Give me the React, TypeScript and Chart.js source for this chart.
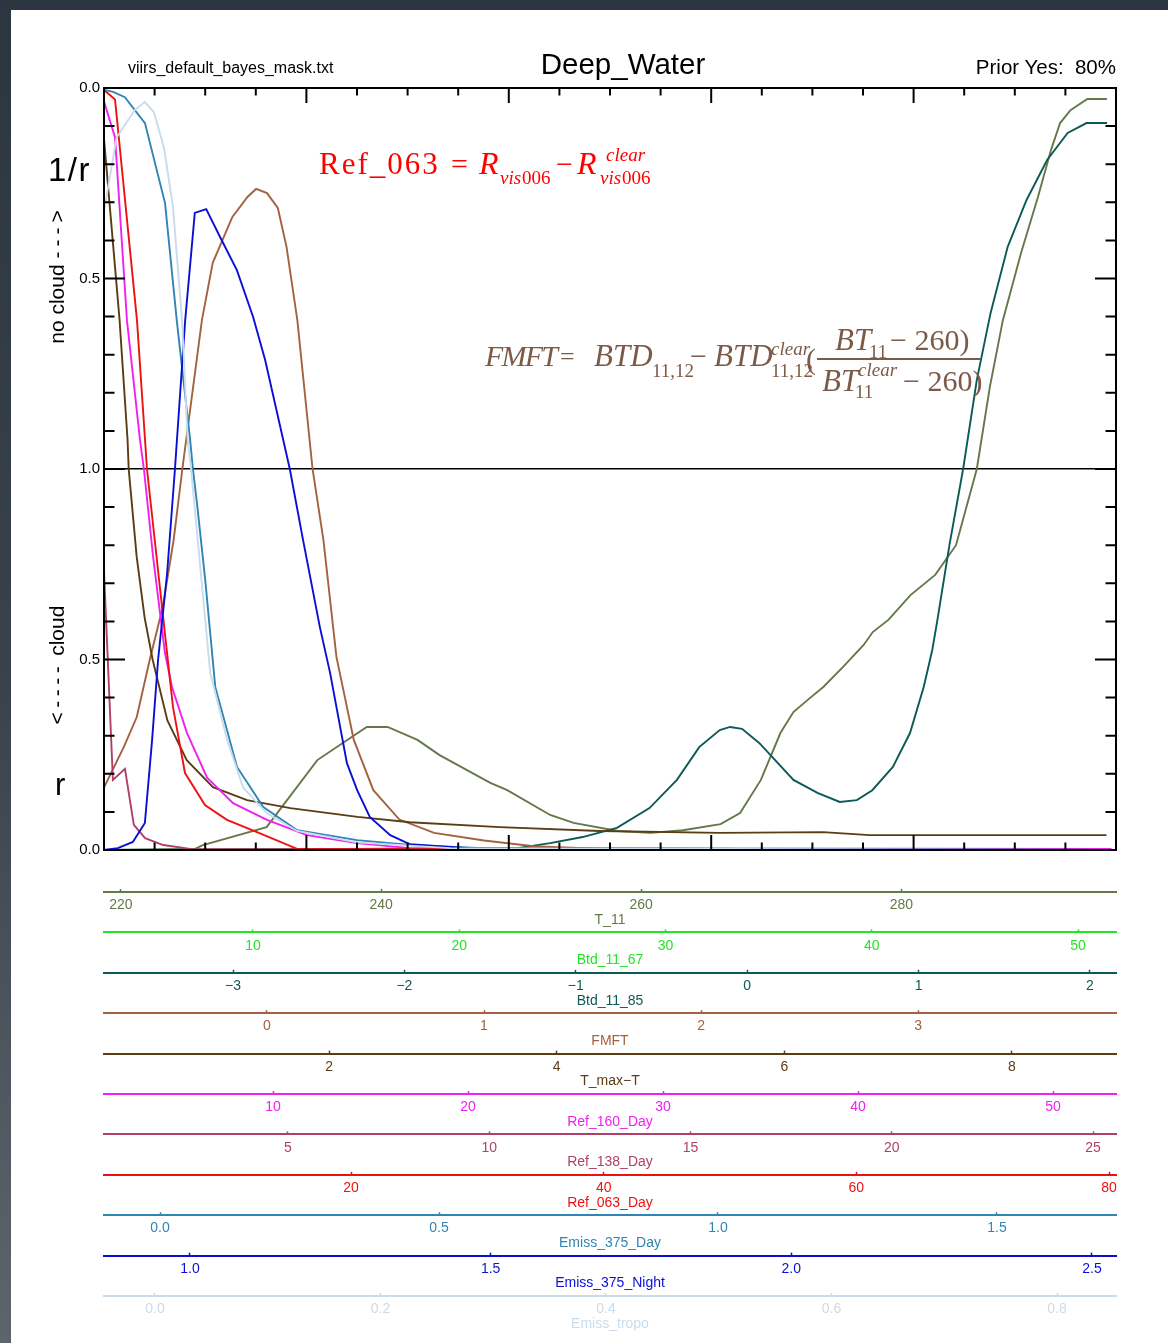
import React, { useEffect, useRef } from 'react';
import { Chart, registerables } from 'chart.js';

Chart.register(...registerables);

const W = 1168;
const H = 1343;

// ---- plot-space y axis: 0 = bottom "0.0" (r), 1 = "1.0", 2 = top "0.0" (1/r)
const Y_TICKS = [0, 0.5, 1, 1.5, 2];
const Y_TICK_LABELS = ['0.0', '0.5', '1.0', '0.5', '0.0'];
const FRAME_X_MAJOR = [0.2, 0.4, 0.6, 0.8];
const FRAME_X_MINOR = [0.05, 0.1, 0.15, 0.25, 0.3, 0.35, 0.45, 0.5, 0.55, 0.65, 0.7, 0.75, 0.85, 0.9, 0.95];
const FRAME_Y_MAJOR = [0.5, 1.0, 1.5];
const FRAME_Y_MINOR = [0.1, 0.2, 0.3, 0.4, 0.6, 0.7, 0.8, 0.9, 1.1, 1.2, 1.3, 1.4, 1.6, 1.7, 1.8, 1.9];

// ---- T_11
const T11_X = [218.7, 225.7, 226.3, 231.2, 235.1, 238.9, 240.5, 242.8, 244.5, 248.4, 249.7, 253.0, 254.8, 258.2, 260.7, 263.2, 266.1, 267.6, 269.2, 270.7, 271.7, 272.8, 274.0, 275.5, 277.1, 277.8, 279.0, 280.7, 282.6, 284.2, 285.8, 286.8, 287.8, 289.2, 290.5, 291.5, 292.2, 293.0, 294.3, 295.8];
const T11_Y = [0, 0.003, 0.013, 0.06, 0.236, 0.323, 0.323, 0.289, 0.249, 0.176, 0.157, 0.092, 0.071, 0.05, 0.045, 0.052, 0.068, 0.097, 0.184, 0.307, 0.362, 0.394, 0.428, 0.48, 0.538, 0.572, 0.604, 0.669, 0.722, 0.8, 1.0, 1.215, 1.39, 1.567, 1.714, 1.837, 1.908, 1.942, 1.971, 1.971];
const T11_RANGE = [218.7, 296.5];
const T11_TICKS = [220, 240, 260, 280];
const T11_TICK_LABELS = ['220', '240', '260', '280'];

// ---- Btd_11_67
const BTD67_X = [2.8, 51.8];
const BTD67_Y = [0, 0];
const BTD67_RANGE = [2.78, 51.84];
const BTD67_TICKS = [10, 20, 30, 40, 50];
const BTD67_TICK_LABELS = ['10', '20', '30', '40', '50'];

// ---- Btd_11_85
const BTD85_X = [-3.75, -1.34, -1.15, -0.96, -0.76, -0.57, -0.41, -0.28, -0.16, -0.10, -0.03, 0.07, 0.27, 0.41, 0.54, 0.64, 0.73, 0.85, 0.95, 1.03, 1.08, 1.11, 1.18, 1.26, 1.34, 1.42, 1.52, 1.63, 1.75, 1.87, 1.98, 2.10];
const BTD85_Y = [0, 0.005, 0.018, 0.034, 0.058, 0.11, 0.184, 0.27, 0.315, 0.323, 0.318, 0.281, 0.184, 0.15, 0.126, 0.131, 0.157, 0.218, 0.307, 0.428, 0.525, 0.604, 0.8, 1.0, 1.234, 1.409, 1.583, 1.706, 1.811, 1.882, 1.908, 1.908];
const BTD85_RANGE = [-3.753, 2.152];
const BTD85_TICKS = [-3, -2, -1, 0, 1, 2];
const BTD85_TICK_LABELS = ['\u22123', '\u22122', '\u22121', '0', '1', '2'];

// ---- FMFT
const FMFT_X = [-0.75, -0.66, -0.60, -0.54, -0.48, -0.43, -0.39, -0.30, -0.25, -0.16, -0.09, -0.05, 0.0, 0.05, 0.09, 0.14, 0.21, 0.26, 0.32, 0.40, 0.49, 0.61, 0.77, 1.0, 1.23, 1.54, 3.87];
const FMFT_Y = [0.165, 0.27, 0.349, 0.5, 0.638, 0.814, 1.0, 1.39, 1.541, 1.661, 1.714, 1.735, 1.724, 1.685, 1.583, 1.39, 1.0, 0.814, 0.507, 0.289, 0.157, 0.08, 0.045, 0.025, 0.01, 0.003, 0];
const FMFT_RANGE = [-0.751, 3.912];
const FMFT_TICKS = [0, 1, 2, 3];
const FMFT_TICK_LABELS = ['0', '1', '2', '3'];

// ---- T_max-T
const TMAX_X = [0.02, 0.16, 0.23, 0.24, 0.31, 0.38, 0.45, 0.58, 0.75, 0.98, 1.28, 1.66, 2.25, 2.71, 3.50, 4.38, 5.43, 6.34, 6.75, 8.83];
const TMAX_Y = [1.877, 1.39, 1.076, 1.0, 0.77, 0.61, 0.5, 0.34, 0.236, 0.165, 0.131, 0.11, 0.087, 0.073, 0.06, 0.05, 0.045, 0.047, 0.039, 0.039];
const TMAX_RANGE = [0.023, 8.914];
const TMAX_TICKS = [2, 4, 6, 8];
const TMAX_TICK_LABELS = ['2', '4', '6', '8'];

// ---- Ref_160_Day
const REF160_X = [1.33, 1.90, 2.51, 3.18, 3.38, 3.85, 4.46, 4.82, 5.59, 6.62, 7.95, 9.69, 11.74, 14.30, 17.02, 53.0];
const REF160_Y = [1.965, 1.87, 1.39, 1.076, 1.0, 0.77, 0.517, 0.428, 0.307, 0.19, 0.123, 0.079, 0.039, 0.018, 0.005, 0.003];
const REF160_RANGE = [1.333, 53.23];
const REF160_TICKS = [10, 20, 30, 40, 50];
const REF160_TICK_LABELS = ['10', '20', '30', '40', '50'];

// ---- Ref_138_Day
const REF138_X = [0.43, 0.65, 0.95, 1.17, 1.45, 1.90, 2.57, 25.35];
const REF138_Y = [0.73, 0.184, 0.213, 0.066, 0.031, 0.013, 0.003, 0];
const REF138_RANGE = [0.429, 25.571];
const REF138_TICKS = [5, 10, 15, 20, 25];
const REF138_TICK_LABELS = ['5', '10', '15', '20', '25'];

// ---- Ref_063_Day
const REF063_X = [0.45, 1.32, 3.06, 3.85, 5.44, 5.91, 6.86, 8.44, 10.18, 12.56, 15.73, 80.5];
const REF063_Y = [1.995, 1.97, 1.39, 1.0, 0.517, 0.375, 0.202, 0.118, 0.079, 0.047, 0.003, 0];
const REF063_RANGE = [0.448, 80.554];
const REF063_TICKS = [20, 40, 60, 80];
const REF063_TICK_LABELS = ['20', '40', '60', '80'];

// ---- Emiss_375_Day
const E375D_X = [-0.100, -0.084, -0.063, -0.027, 0.009, 0.030, 0.054, 0.059, 0.067, 0.081, 0.099, 0.138, 0.185, 0.246, 0.353, 0.448, 0.609, 1.697];
const E375D_Y = [1.995, 1.99, 1.976, 1.908, 1.698, 1.39, 1.076, 1.0, 0.9, 0.709, 0.428, 0.218, 0.113, 0.052, 0.026, 0.013, 0.003, 0];
const E375D_RANGE = [-0.1004, 1.7133];
const E375D_TICKS = [0, 0.5, 1.0, 1.5];
const E375D_TICK_LABELS = ['0.0', '0.5', '1.0', '1.5'];

// ---- Emiss_375_Night
const E375N_X = [0.857, 0.880, 0.905, 0.925, 0.937, 0.947, 0.962, 0.975, 0.992, 1.008, 1.027, 1.050, 1.078, 1.105, 1.125, 1.166, 1.188, 1.216, 1.233, 1.261, 1.278, 1.299, 1.333, 1.366, 1.461, 2.525];
const E375N_Y = [0, 0.005, 0.021, 0.071, 0.289, 0.5, 0.727, 1.0, 1.39, 1.672, 1.682, 1.609, 1.522, 1.399, 1.286, 1.0, 0.814, 0.585, 0.465, 0.228, 0.157, 0.087, 0.039, 0.015, 0.005, 0];
const E375N_RANGE = [0.857, 2.540];
const E375N_TICKS = [1.0, 1.5, 2.0, 2.5];
const E375N_TICK_LABELS = ['1.0', '1.5', '2.0', '2.5'];

// ---- Emiss_tropo
const ETROPO_X = [-0.045, -0.034, -0.018, -0.009, -0.001, 0.008, 0.016, 0.024, 0.029, 0.032, 0.049, 0.064, 0.078, 0.099, 0.126, 0.179, 0.262, 0.844];
const ETROPO_Y = [1.68, 1.87, 1.942, 1.963, 1.937, 1.843, 1.688, 1.39, 1.076, 1.0, 0.465, 0.289, 0.165, 0.097, 0.05, 0.02, 0.005, 0];
const ETROPO_RANGE = [-0.0452, 0.8523];
const ETROPO_TICKS = [0, 0.2, 0.4, 0.6, 0.8];
const ETROPO_TICK_LABELS = ['0.0', '0.2', '0.4', '0.6', '0.8'];

const FEATURE_NAMES = ['T_11', 'Btd_11_67', 'Btd_11_85', 'FMFT', 'T_max\u2212T', 'Ref_160_Day', 'Ref_138_Day', 'Ref_063_Day', 'Emiss_375_Day', 'Emiss_375_Night', 'Emiss_tropo'];
const FEATURE_COLORS = ['#64784a', '#22e622', '#0c5a55', '#a3613f', '#5c3c14', '#f020f0', '#b03f6b', '#ee1111', '#2f85b4', '#0b0fd6', '#c8dcec'];

const FEATURES = [
  { xs: T11_X, ys: T11_Y, range: T11_RANGE, ticks: T11_TICKS, labels: T11_TICK_LABELS },
  { xs: BTD67_X, ys: BTD67_Y, range: BTD67_RANGE, ticks: BTD67_TICKS, labels: BTD67_TICK_LABELS },
  { xs: BTD85_X, ys: BTD85_Y, range: BTD85_RANGE, ticks: BTD85_TICKS, labels: BTD85_TICK_LABELS },
  { xs: FMFT_X, ys: FMFT_Y, range: FMFT_RANGE, ticks: FMFT_TICKS, labels: FMFT_TICK_LABELS },
  { xs: TMAX_X, ys: TMAX_Y, range: TMAX_RANGE, ticks: TMAX_TICKS, labels: TMAX_TICK_LABELS },
  { xs: REF160_X, ys: REF160_Y, range: REF160_RANGE, ticks: REF160_TICKS, labels: REF160_TICK_LABELS },
  { xs: REF138_X, ys: REF138_Y, range: REF138_RANGE, ticks: REF138_TICKS, labels: REF138_TICK_LABELS },
  { xs: REF063_X, ys: REF063_Y, range: REF063_RANGE, ticks: REF063_TICKS, labels: REF063_TICK_LABELS },
  { xs: E375D_X, ys: E375D_Y, range: E375D_RANGE, ticks: E375D_TICKS, labels: E375D_TICK_LABELS },
  { xs: E375N_X, ys: E375N_Y, range: E375N_RANGE, ticks: E375N_TICKS, labels: E375N_TICK_LABELS },
  { xs: ETROPO_X, ys: ETROPO_Y, range: ETROPO_RANGE, ticks: ETROPO_TICKS, labels: ETROPO_TICK_LABELS },
].map((f, i) => ({ ...f, name: FEATURE_NAMES[i], color: FEATURE_COLORS[i] }));

const SANS = '"Liberation Sans", Arial, Helvetica, sans-serif';
const SERIF = '"Liberation Serif", "Times New Roman", serif';

const framePlugin = {
  id: 'frameTicks',
  afterDatasetsDraw(chart: any) {
    const { ctx, chartArea: a, scales: s } = chart;
    ctx.save();
    ctx.strokeStyle = '#000';
    ctx.lineWidth = 2;
    ctx.strokeRect(a.left, a.top, a.right - a.left, a.bottom - a.top);
    ctx.beginPath();
    const xt = (vals: number[], len: number) =>
      vals.forEach((v) => {
        const p = s.x.getPixelForValue(v);
        ctx.moveTo(p, a.top);
        ctx.lineTo(p, a.top + len);
        ctx.moveTo(p, a.bottom);
        ctx.lineTo(p, a.bottom - len);
      });
    const yt = (vals: number[], len: number) =>
      vals.forEach((v) => {
        const p = s.y.getPixelForValue(v);
        ctx.moveTo(a.left, p);
        ctx.lineTo(a.left + len, p);
        ctx.moveTo(a.right, p);
        ctx.lineTo(a.right - len, p);
      });
    xt(FRAME_X_MAJOR, 15);
    xt(FRAME_X_MINOR, 7.5);
    yt(FRAME_Y_MAJOR, 21);
    yt(FRAME_Y_MINOR, 10.5);
    ctx.stroke();
    ctx.restore();
  },
};

type TP = {
  x: number; y: number; size: number; text: string; color?: string;
  italic?: boolean; serif?: boolean; align?: 'left' | 'center' | 'right'; ls?: number;
};
function Txt({ x, y, size, text, color = '#000', italic, serif, align = 'left', ls }: TP) {
  const asc = serif ? 0.8375 : 0.8465;
  const style: React.CSSProperties = {
    position: 'absolute', top: y - asc * size, whiteSpace: 'pre', fontSize: size,
    lineHeight: `${size}px`, fontFamily: serif ? SERIF : SANS,
    fontStyle: italic ? 'italic' : 'normal', color, letterSpacing: ls,
  };
  if (align === 'left') style.left = x;
  else if (align === 'right') style.right = W - x;
  else { style.left = x; style.transform = 'translateX(-50%)'; }
  return <div style={style}>{text}</div>;
}

function VTxt({ cx, cy, size, pre, arrow, post, arrowLs }: {
  cx: number; cy: number; size: number; pre: string; arrow: string; post: string; arrowLs: number;
}) {
  return (
    <div style={{
      position: 'absolute', left: cx, top: cy, whiteSpace: 'pre', fontSize: size,
      lineHeight: `${size}px`, fontFamily: SANS, color: '#000',
      transform: 'translate(-50%, -50%) rotate(-90deg)',
    }}>
      {pre}<span style={{ letterSpacing: arrowLs }}>{arrow}</span>{post}
    </div>
  );
}

const RED = '#ff0000';
const BROWN = '#7c5a48';

export default function App() {
  const ref = useRef<HTMLCanvasElement | null>(null);

  useEffect(() => {
    if (!ref.current) return;
    const scales: any = {
      x: {
        type: 'linear', position: 'bottom', min: 0, max: 1, weight: 0,
        ticks: { display: false }, grid: { display: false }, border: { display: false },
        afterFit: (s: any) => { s.height = 42; },
      },
      y: {
        type: 'linear', position: 'left', min: 0, max: 2,
        afterBuildTicks: (s: any) => { s.ticks = Y_TICKS.map((v) => ({ value: v })); },
        afterFit: (s: any) => { s.width = 40; },
        ticks: {
          callback: (_v: any, i: number) => Y_TICK_LABELS[i],
          color: '#000', font: { size: 15, family: SANS }, padding: 4, autoSkip: false,
        },
        grid: {
          drawTicks: false,
          color: (c: any) => (c.tick && c.tick.value === 1 ? '#000' : 'rgba(0,0,0,0)'),
          lineWidth: 1.6,
        },
        border: { display: false },
      },
    };
    FEATURES.forEach((f, i) => {
      scales['x' + i] = {
        type: 'linear', position: 'bottom', weight: i + 1, min: f.range[0], max: f.range[1],
        afterBuildTicks: (s: any) => { s.ticks = f.ticks.map((v) => ({ value: v })); },
        afterFit: (s: any) => { s.height = 40.4; },
        ticks: {
          callback: (_v: any, k: number) => f.labels[k],
          color: f.color, font: { size: 14, family: SANS }, padding: 8, autoSkip: false, maxRotation: 0,
        },
        grid: { display: true, drawOnChartArea: false, drawTicks: true, tickLength: -3, tickColor: f.color, tickWidth: 1.5 },
        border: { display: true, color: f.color, width: 2 },
        title: { display: true, text: f.name, color: f.color, font: { size: 14, family: SANS }, padding: { top: 0, bottom: 4 } },
      };
    });

    const chart = new Chart(ref.current, {
      type: 'line',
      data: {
        datasets: FEATURES.map((f, i) => ({
          label: f.name,
          data: f.xs.map((x, k) => ({ x, y: f.ys[k] })),
          xAxisID: 'x' + i,
          yAxisID: 'y',
          borderColor: f.color,
          backgroundColor: f.color,
          borderWidth: 1.9,
          pointRadius: 0,
          tension: 0,
          fill: false,
          order: FEATURES.length - i,
        })),
      },
      options: {
        responsive: false,
        animation: false,
        devicePixelRatio: 1,
        events: [],
        layout: { padding: { left: 64, right: 52, top: 88, bottom: 6.6 } },
        plugins: { legend: { display: false }, tooltip: { enabled: false } },
        scales,
      } as any,
      plugins: [framePlugin],
    });
    return () => chart.destroy();
  }, []);

  return (
    <div style={{
      position: 'absolute', left: 0, top: 0, width: W, height: H, overflow: 'hidden',
      background: 'linear-gradient(to bottom, #2c3640 0%, #39424b 50%, #5d646c 100%)',
    }}>
      <div style={{ position: 'absolute', left: 11, top: 10, right: 0, bottom: 0, background: '#fff' }} />
      <canvas ref={ref} width={W} height={H} style={{ position: 'absolute', left: 0, top: 0, width: W, height: H }} />

      <Txt x={128} y={74} size={16} text="viirs_default_bayes_mask.txt" />
      <Txt x={623} y={74} size={29.5} align="center" text="Deep_Water" />
      <Txt x={1116} y={74} size={20.5} align="right" text="Prior Yes:  80%" />

      <Txt x={48} y={181} size={33} ls={1.5} text="1/r" />
      <Txt x={55} y={795} size={31} text="r" />
      <VTxt cx={56} cy={277} size={21} pre="no cloud " arrow="---" post=">" arrowLs={5} />
      <VTxt cx={56} cy={665} size={21} pre="" arrow="<----" post=" cloud" arrowLs={4.5} />

      {/* Ref_063 formula */}
      <Txt serif color={RED} x={319} y={174} size={31} ls={2} text="Ref_063" />
      <Txt serif color={RED} x={451} y={174} size={30} text="=" />
      <Txt serif italic color={RED} x={479} y={174} size={32} text="R" />
      <Txt serif italic color={RED} x={500} y={184} size={19} text="vis" />
      <Txt serif color={RED} x={522} y={184} size={19} text="006" />
      <Txt serif color={RED} x={556} y={174} size={30} text={'\u2212'} />
      <Txt serif italic color={RED} x={577} y={174} size={32} text="R" />
      <Txt serif italic color={RED} x={606} y={161} size={19} text="clear" />
      <Txt serif italic color={RED} x={600} y={184} size={19} text="vis" />
      <Txt serif color={RED} x={622} y={184} size={19} text="006" />

      {/* FMFT formula */}
      <Txt serif italic color={BROWN} x={485} y={366} size={30} ls={-1.8} text="FMFT" />
      <Txt serif color={BROWN} x={560} y={366} size={26} text="=" />
      <Txt serif italic color={BROWN} x={594} y={366} size={31} text="BTD" />
      <Txt serif color={BROWN} x={652} y={377} size={19} text="11,12" />
      <Txt serif color={BROWN} x={690} y={366} size={30} text={'\u2212'} />
      <Txt serif italic color={BROWN} x={714} y={366} size={31} text="BTD" />
      <Txt serif italic color={BROWN} x={771} y={355} size={19} text="clear" />
      <Txt serif color={BROWN} x={771} y={377} size={19} text="11,12" />
      <Txt serif color={BROWN} x={806} y={369} size={30} text="(" />
      <Txt serif italic color={BROWN} x={835} y={350} size={31} text="BT" />
      <Txt serif color={BROWN} x={869} y={358} size={19} text="11" />
      <Txt serif color={BROWN} x={890} y={350} size={30} text={'\u2212 260)'} />
      <div style={{ position: 'absolute', left: 817, top: 358, width: 163, height: 2, background: BROWN }} />
      <Txt serif italic color={BROWN} x={822} y={391} size={31} text="BT" />
      <Txt serif italic color={BROWN} x={858} y={376} size={19} text="clear" />
      <Txt serif color={BROWN} x={855} y={398} size={19} text="11" />
      <Txt serif color={BROWN} x={903} y={391} size={30} text={'\u2212 260)'} />
    </div>
  );
}
